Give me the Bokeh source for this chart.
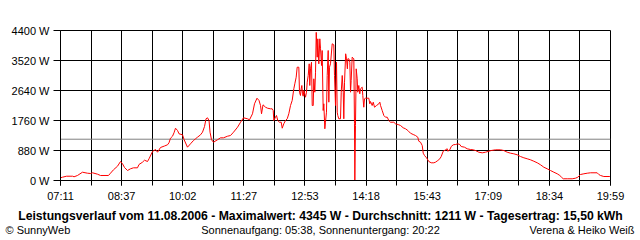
from bokeh.plotting import figure
from bokeh.layouts import column
from bokeh.models import Range1d, FixedTicker, Span, CustomJSTickFormatter
from bokeh.core.properties import value
from bokeh.embed import file_html
from bokeh.resources import INLINE
import numpy as np

# ---------------- data ----------------
x_labels = ["07:11", "08:37", "10:02", "11:27", "12:53", "14:18", "15:43", "17:09", "18:34", "19:59"]
t_start = 431   # 07:11 in minutes of the day
t_end = 1199    # 19:59
y_ticks = [0, 880, 1760, 2640, 3520, 4400]
average_w = 1211

title_text = "Leistungsverlauf vom 11.08.2006 - Maximalwert: 4345 W - Durchschnitt: 1211 W - Tagesertrag: 15,50 kWh"
footer_left = "\u00a9 SunnyWeb"
footer_mid = "Sonnenaufgang: 05:38, Sonnenuntergang: 20:22"
footer_right = "Verena & Heiko Wei\u00df"

minutes = [431, 433.8, 439.4, 447.8, 449.9, 454.7, 461.7, 468.7, 472.9, 475.7, 482.7, 486.9, 498.0, 500.8, 505.0,
           510.6, 514.8, 517.6, 520.4, 524.6, 528.7, 532.9, 538.5, 540.6, 545.5, 548.3, 552.5, 554.6, 559.5, 563.7,
           566.5, 570.6, 576.2, 580.4, 582.5, 584.6, 587.4, 589.5, 591.6, 594.4, 596.5, 601.4, 603.5, 608.3, 612.5,
           616.7, 619.5, 622.3, 626.5, 629.3, 632.1, 634.2, 636.3, 638.4, 639.8, 641.9, 644.6, 650.2, 654.4, 658.6,
           664.2, 668.4, 672.6, 678.2, 682.4, 686.5, 692.1, 694.9, 699.1, 701.9, 705.4, 708.2, 710.3, 711.7, 713.8,
           717.3, 720.1, 724.2,
           726.6, 728.0, 728.9, 731.2, 732.6, 734.4, 736.8, 739.2, 740.6, 742.8, 745.2, 747.6, 749.8, 752.2, 754.5,
           756.8, 758.2, 760.1, 761.5, 763.8, 764.7, 766.1, 767.1, 768.0, 768.9, 769.9, 770.8, 773.1, 774.5, 775.5,
           776.9, 778.3, 779.1, 780.1, 781.5, 782.5, 783.9, 784.7, 786.1, 787.1, 788.1, 789.5, 790.3, 791.7, 793.1,
           794.1, 795.5, 796.4, 797.8, 798.7, 800.1, 801.0, 802.4, 803.4, 804.8, 805.7, 806.6, 808.0,
           810.4, 812.6, 813.6, 815.0, 816.4, 817.4, 818.2, 819.6, 822.0, 823.0, 824.4, 825.8, 826.6, 827.6, 829.2,
           830.4, 831.6, 832.2, 833.6, 835.0, 836.0, 836.9, 838.3, 840.6, 841.5, 842.0, 842.9, 843.9, 845.3, 846.1,
           847.5, 848.9, 849.9, 852.3, 853.1, 854.5, 855.5, 856.9, 861.5, 862.9, 863.9, 866.2, 867.7, 869.5, 872.3,
           875.5, 876.9, 877.9, 880.2, 882.5, 884.8, 887.2, 889.4, 891.8, 896.4, 898.8, 903.4, 905.8,
           909.5, 912.8, 916.0, 919.7, 923.5, 926.7, 929.9, 931.3, 933.7, 936.1, 937.5, 939.3, 942.1, 945.3, 948.6,
           952.3, 954.6, 957.9, 960.7, 962.6, 965.4, 968.6, 971.0, 971.8, 974.6, 976.6, 979.4, 982.6, 985.8, 988.6,
           990.5, 995.1, 998.9, 1003.5, 1007.3, 1010.5, 1015.1, 1019.9, 1024.5, 1029.1, 1032.4, 1038.4, 1045.4,
           1050.0, 1054.8, 1059.4, 1064.0, 1068.7, 1073.3, 1078.0, 1082.7, 1087.3, 1091.9, 1096.7, 1101.3, 1105.9,
           1110.6, 1115.2, 1119.9, 1124.6, 1128.2, 1130.6, 1133.0, 1138.6, 1145.5, 1150.1, 1153.4, 1157.1, 1161.8,
           1166.5, 1171.1, 1180.4, 1182.7, 1185.1, 1189.7, 1198.1]

watts = [79, 97, 126, 126, 109, 147, 243, 214, 205, 226, 185, 147, 147, 214, 314,
         419, 557, 490, 381, 293, 343, 372, 372, 469, 537, 595, 557, 637, 851, 909,
         830, 968, 1012, 1047, 1106, 1241, 1299, 1399, 1534, 1467, 1370, 1340, 1203, 977, 1076,
         1173, 1223, 1270, 1340, 1417, 1584, 1810, 1839, 1760, 1417, 1194, 1123, 1194, 1252, 1252,
         1299, 1320, 1417, 1563, 1710, 1839, 1810, 1780, 1957, 2250, 2414, 2347, 2200, 1957, 2220,
         2150, 2121, 2103,
         2103, 2053, 1760, 1857, 1907, 1760, 1710, 1710, 1534, 1663, 1760, 1810, 1957, 2200, 2347,
         2690, 2837, 3030, 3323, 3323, 2590, 2493, 2690, 2787, 2543, 2473, 2640, 2443, 2590, 2883,
         3080, 3423, 2787, 3276, 3470, 2200, 2200, 2983, 2590, 3177, 4345, 3617, 4156, 3423, 4156,
         3863, 3373, 3813, 2053, 2250, 1517, 1710, 2003, 3080, 3813, 2297, 3323, 3423,
         4010, 3980, 3080, 2200, 3470, 2003, 1907, 1810, 1810, 2590, 3080, 2590, 1810, 2883, 3717,
         3570, 3276, 3570, 3570, 3470, 2590, 2933, 3617, 3570, 1663, 0, 1613, 3276, 2983, 2590,
         2787, 2543, 2690, 2737, 2493, 2150, 2397, 2414, 2414, 2250, 2317, 2200, 2297, 2150, 2200,
         2250, 2297, 2200, 2053, 1907, 1857, 1857, 1760, 1710, 1710, 1663, 1634, 1613,
         1546, 1517, 1467, 1387, 1349, 1320, 1270, 1153, 1123, 1027, 801, 733, 666, 557, 519,
         519, 537, 587, 637, 704, 859, 900, 930, 859, 900, 997, 1047, 1056, 1076, 1056,
         997, 977, 930, 909, 900, 880, 830, 812, 830, 859, 880, 900, 900,
         880, 830, 801, 783, 754, 704, 666, 637, 607, 566, 519, 461, 390,
         343, 293, 243, 197, 147, 97, 50, 50, 50, 67, 97, 176,
         197, 214, 226, 226, 176, 147, 117, 117]

# ---------------- main chart ----------------
FONT = "Liberation Sans"

p = figure(width=640, height=205, output_backend="svg", toolbar_location=None,
           x_range=Range1d(t_start, t_end), y_range=Range1d(0, y_ticks[-1]),
           min_border_left=60, min_border_right=30, min_border_top=30, min_border_bottom=25,
           background_fill_color="white", border_fill_color="white")
p.frame_align = False
p.outline_line_color = "black"
p.outline_line_width = 1

all_x_ticks = [float(v) for v in np.linspace(t_start, t_end, 2 * (len(x_labels) - 1) + 1)]
major_x = all_x_ticks[::2]
p.xaxis.ticker = FixedTicker(ticks=major_x, minor_ticks=all_x_ticks)
p.xaxis.formatter = CustomJSTickFormatter(args=dict(labels=x_labels), code="return labels[index];")
p.yaxis.ticker = FixedTicker(ticks=y_ticks, minor_ticks=[])
p.yaxis.formatter = CustomJSTickFormatter(code="return tick + ' W';")

for ax in (p.xaxis[0], p.yaxis[0]):
    ax.axis_line_color = "black"
    ax.major_tick_line_color = "black"
    ax.minor_tick_line_color = "black"
    ax.major_tick_in = 0
    ax.minor_tick_in = 0
    ax.major_label_text_font = FONT
    ax.major_label_text_font_size = "11px"
    ax.major_label_text_color = "black"
    ax.major_label_standoff = 4

p.xaxis.major_tick_out = 5
p.xaxis.minor_tick_out = 5
p.yaxis.major_tick_out = 7
p.yaxis.minor_tick_out = 0

p.xgrid.ticker = FixedTicker(ticks=major_x, minor_ticks=all_x_ticks)
p.xgrid.grid_line_color = "black"
p.xgrid.minor_grid_line_color = "black"
p.ygrid.grid_line_color = "black"

avg = Span(location=average_w, dimension="width", line_color="#808080", line_width=1, level="underlay")
p.add_layout(avg)

p.line(minutes, watts, line_color="#ff0000", line_width=1)

# ---------------- texts below the chart ----------------
f = figure(width=640, height=35, output_backend="svg", toolbar_location=None,
           x_range=Range1d(0, 640), y_range=Range1d(35, 0),
           x_axis_type=None, y_axis_type=None,
           min_border=0, min_border_left=0, min_border_right=0, min_border_top=0, min_border_bottom=0,
           background_fill_color="white", border_fill_color="white")
f.frame_align = False
f.outline_line_color = None
f.grid.visible = False

f.text(x=[320], y=[10], text=[title_text], text_font=value(FONT), text_font_size="12.2px",
       text_font_style="bold", text_align="center", text_baseline="middle", text_color="black")
f.text(x=[5, 320, 634], y=[24, 24, 24], text=[footer_left, footer_mid, footer_right],
       text_font=value(FONT), text_font_size="11px",
       text_align=["left", "center", "right"], text_baseline="middle", text_color="black")

layout = column(p, f, spacing=0)
open("out.html", "w").write(file_html(layout, INLINE))
